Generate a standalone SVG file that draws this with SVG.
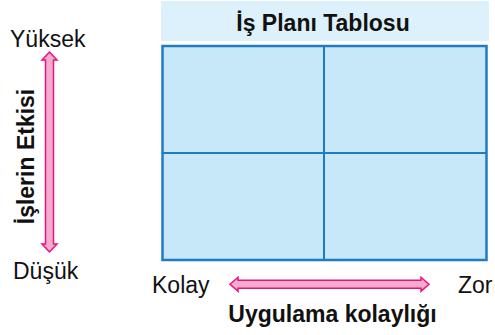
<svg xmlns="http://www.w3.org/2000/svg" width="495" height="335" viewBox="0 0 495 335">
<style>
.t{font-family:"Liberation Sans",Arial,sans-serif;fill:#111;font-size:23px;}
.b{font-weight:bold;}
.arr{fill:#f5abcd;stroke:#e6137f;stroke-width:1.5;stroke-linejoin:miter;}
.grid{fill:#c7e8f8;stroke:#1f7bc3;stroke-width:2.5;}
.ln{stroke:#1f7bc3;stroke-width:2;}
</style>
<rect width="495" height="335" fill="#fff"/>
<g id="header">
<rect x="161" y="1" width="328" height="40" fill="#dcf1fc"/>
<text class="t b" x="323" y="30.5" text-anchor="middle">İş Planı Tablosu</text>
</g>
<g id="grid">
<rect class="grid" x="162.5" y="46" width="324" height="214"/>
<line class="ln" x1="324" y1="46" x2="324" y2="260"/>
<line class="ln" x1="162.5" y1="153" x2="486.5" y2="153"/>
</g>
<g id="yaxis">
<text class="t" x="10" y="47">Yüksek</text>
<text class="t" x="13" y="279">Düşük</text>
<text class="t b" text-anchor="middle" transform="translate(34,156.5) rotate(-90)">İşlerin Etkisi</text>
</g>
<g id="xaxis">
<text class="t" x="152" y="293">Kolay</text>
<text class="t" x="458" y="293">Zor</text>
<text class="t b" x="332.5" y="322" text-anchor="middle">Uygulama kolaylığı</text>
</g>
<g id="connectors">
<path class="arr" d="M49.5,52 L57,60 L53.5,60 L53.5,244 L57,244 L49.5,252 L42,244 L45.5,244 L45.5,60 L42,60 Z"/>
<path class="arr" d="M230,284.3 L238,277.3 L238,280.3 L421,280.3 L421,277.3 L429,284.3 L421,291.3 L421,288.3 L238,288.3 L238,291.3 Z"/>
</g>
</svg>
